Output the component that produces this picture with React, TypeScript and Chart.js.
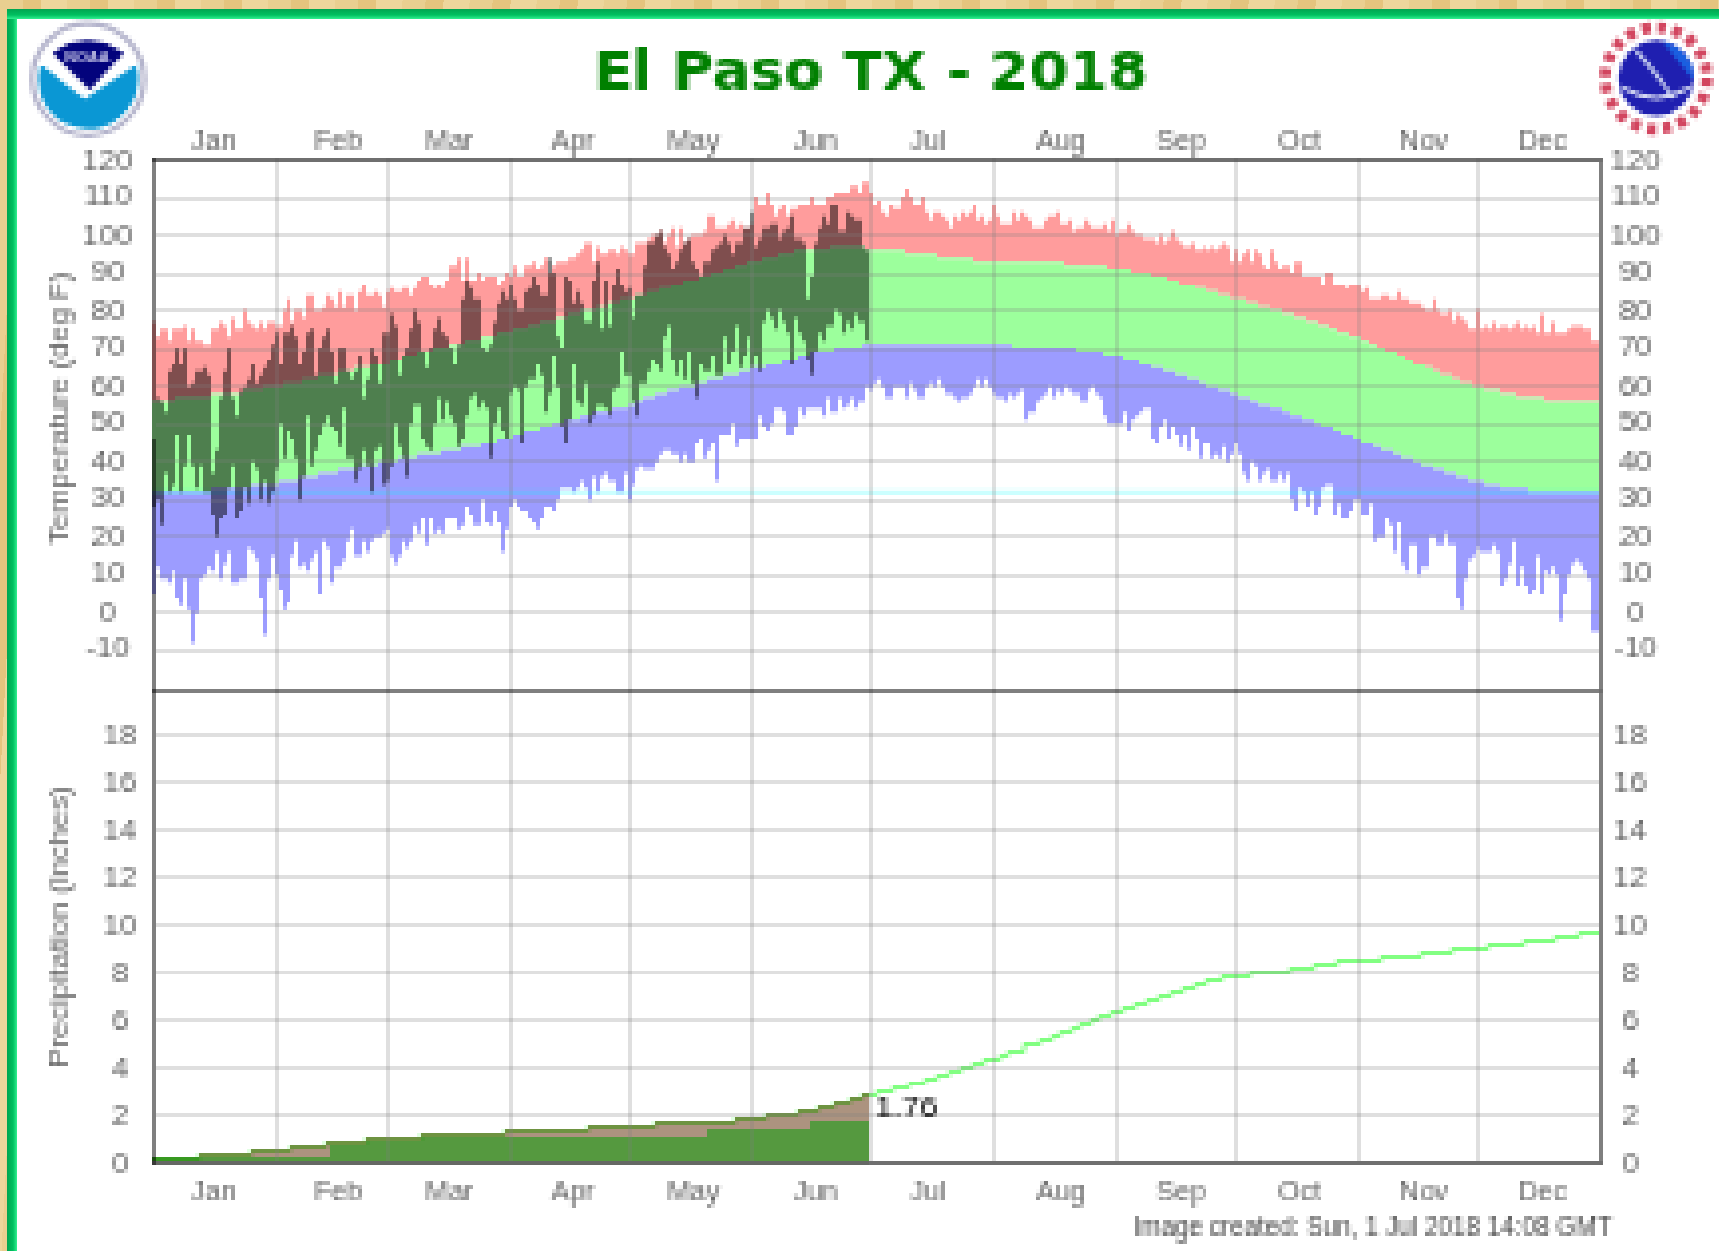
import React, { useEffect, useRef } from "react";
import { Chart, registerables } from "chart.js";

Chart.register(...registerables);

const TITLE = "El Paso TX - 2018";
const STAMP = "Image created: Sun, 1 Jul 2018 14:08 GMT";
const YTD_LABEL = "1.76";
const YTD_VALUE = 1.76;
const FREEZING_F = 32;

const monthLabels = ["Jan", "Feb", "Mar", "Apr", "May", "Jun", "Jul", "Aug", "Sep", "Oct", "Nov", "Dec"];
const monthLabelDays = [15.6, 47.1, 75.1, 106.2, 136.6, 167.3, 195.7, 229.2, 259.6, 289.5, 320.8, 350.7];
const monthGridDays = [31, 59, 90, 120, 151, 181, 212, 243, 273, 304, 334];
const tempTicks = [120, 110, 100, 90, 80, 70, 60, 50, 40, 30, 20, 10, 0, -10];

const recordHighF = [
  77,73,75,75,72,75,75,75,76,72,75,72,72,71,71,75,75,77,76,73,78,75,75,80,77,76,75,77,75,77,77,
  76,76,80,83,77,80,80,78,84,84,80,80,81,84,83,81,85,81,84,84,80,85,87,84,84,85,84,81,
  85,86,85,85,86,86,84,86,88,89,89,87,86,87,86,88,92,92,94,88,94,88,88,90,88,89,89,89,87,88,90,
  89,92,89,89,92,92,93,91,92,94,90,92,93,93,93,94,94,95,96,98,98,93,97,95,95,96,96,95,97,96,
  95,95,98,98,98,99,100,100,101,98,100,102,97,102,98,99,100,100,100,101,105,105,102,102,102,103,104,102,103,102,102,
  103,110,108,108,111,108,105,107,108,105,107,107,108,108,108,110,108,108,108,110,110,111,111,111,111,113,113,111,114,114,
  111,108,109,106,105,108,107,107,110,112,110,108,108,110,106,104,106,106,105,104,102,105,104,106,105,106,108,104,105,103,104,
  108,105,103,103,103,106,104,106,105,104,102,102,102,104,105,105,106,103,103,104,101,102,102,104,103,102,102,102,103,101,104,
  100,101,101,103,101,100,100,99,99,99,98,100,98,99,101,99,98,97,97,98,96,96,97,96,97,96,97,98,97,93,
  96,93,95,96,93,96,95,92,91,96,93,91,92,92,90,93,93,89,89,89,89,89,87,90,90,87,87,87,86,87,87,
  87,85,86,83,83,83,84,84,83,83,85,83,83,82,82,82,81,80,80,83,80,79,79,80,77,79,78,77,75,75,
  80,75,76,75,77,75,76,76,75,76,77,75,76,75,76,74,79,74,74,77,74,74,74,75,76,76,76,75,75,72,72,
];

const recordLowF = [
  5,12,9,9,8,11,4,2,9,1,-8,0,9,10,12,11,16,9,13,16,8,8,9,9,17,16,14,4,-6,9,15,
  10,6,1,3,15,19,12,13,11,14,16,5,19,17,8,12,12,14,19,22,15,15,19,16,19,20,20,21,
  22,15,13,15,19,17,19,23,21,25,18,25,21,22,21,25,25,25,22,23,28,26,23,23,30,24,23,27,24,16,22,
  28,30,28,27,27,25,24,22,25,28,28,27,30,33,33,33,32,33,35,33,30,36,32,36,37,35,35,32,32,37,
  30,34,38,39,38,38,38,40,42,43,43,42,42,40,42,40,40,45,46,41,43,45,35,47,47,47,50,44,46,46,46,
  46,46,52,49,48,50,54,54,53,47,47,49,54,52,54,54,54,54,52,57,53,53,57,54,55,57,54,56,56,60,
  59,61,62,60,57,57,60,60,60,57,61,59,57,57,60,61,60,62,60,58,58,57,56,57,57,58,60,62,60,62,60,
  58,57,57,56,58,57,58,59,51,53,53,56,57,58,60,57,59,58,60,59,58,58,56,56,59,60,58,57,52,50,50,
  50,50,53,48,51,52,53,54,54,46,45,49,51,46,49,47,44,47,43,49,46,41,45,45,41,42,41,44,40,42,
  45,42,37,35,40,39,35,37,38,35,35,37,35,37,30,27,33,32,28,32,26,28,33,34,34,26,29,25,25,27,30,
  30,26,26,29,19,20,20,25,23,16,24,13,11,18,18,10,12,12,20,20,18,18,21,18,18,4,1,9,14,15,
  17,16,16,16,18,16,7,9,13,19,7,12,7,5,6,15,5,11,10,12,10,-2,5,10,13,14,13,11,9,-5,-5,
];

const normalHighF = [
  56,56,56,56,56,56,57,57,57,57,57,57,57,57,57,58,58,58,58,58,58,58,58,59,59,59,59,59,60,60,60,
  60,60,61,61,61,61,61,62,62,62,62,63,63,63,63,63,64,64,64,64,65,65,65,65,66,66,66,66,
  66,67,67,67,68,68,68,68,69,69,69,69,70,70,70,70,71,71,71,71,72,72,72,72,73,73,73,73,74,74,74,
  74,75,75,75,75,76,76,76,77,77,77,77,78,78,78,79,79,79,80,80,80,80,81,81,81,82,82,82,83,83,
  83,83,84,84,84,85,85,85,86,86,86,87,87,87,88,88,88,88,89,89,89,90,90,90,91,91,91,92,92,92,93,
  93,93,93,94,94,94,94,95,95,95,95,96,96,96,96,96,96,96,96,96,97,97,97,97,97,97,97,97,97,96,
  96,96,96,96,96,96,96,96,96,95,95,95,95,95,95,95,95,94,94,94,94,94,94,94,94,94,93,93,93,93,93,
  93,93,93,93,93,93,93,93,93,93,93,93,93,93,93,93,93,93,92,92,92,92,92,92,92,92,92,92,92,91,91,
  91,91,91,91,90,90,90,90,90,89,89,89,89,88,88,88,87,87,87,87,86,86,86,85,85,85,84,84,84,83,
  83,83,83,82,82,82,81,81,81,80,80,80,79,79,79,78,78,78,77,77,77,76,76,76,75,75,74,74,74,73,73,
  73,72,72,71,71,70,70,69,69,69,68,68,67,67,66,66,66,65,65,64,64,63,63,63,62,62,61,61,61,60,
  60,60,59,59,59,59,58,58,58,58,57,57,57,57,57,57,57,56,56,56,56,56,56,56,56,56,56,56,56,56,56,
];

const normalLowF = [
  32,32,32,32,32,32,32,32,32,32,32,32,32,32,32,33,33,33,33,33,33,33,33,33,33,34,34,34,34,34,34,
  34,35,35,35,35,35,36,36,36,36,36,37,37,37,37,37,38,38,38,38,38,39,39,39,39,39,40,40,
  40,40,40,41,41,41,41,41,42,42,42,42,42,42,43,43,43,43,43,44,44,44,44,44,45,45,45,45,46,46,46,
  46,47,47,47,48,48,48,48,49,49,49,50,50,50,51,51,51,51,52,52,52,53,53,53,53,53,54,54,54,54,
  55,55,56,56,57,57,57,58,58,58,59,59,59,60,60,60,60,61,61,61,62,62,62,62,63,63,63,63,64,64,64,
  65,65,65,65,66,66,66,66,67,67,67,67,68,68,68,69,69,69,69,69,69,70,70,70,70,70,70,70,71,71,
  71,71,71,71,71,71,71,71,71,71,71,71,71,71,71,71,71,71,71,71,71,71,71,71,71,71,71,71,71,71,71,
  71,71,71,71,71,70,70,70,70,70,70,70,70,70,70,70,70,70,70,70,70,69,69,69,69,69,69,69,68,68,68,
  68,68,67,67,67,67,66,66,66,65,65,65,64,64,64,63,63,63,62,62,62,61,61,60,60,60,59,59,59,58,
  58,57,57,57,56,56,55,55,55,54,54,54,53,53,52,52,52,51,51,51,50,50,49,49,49,48,48,47,47,47,46,
  46,45,45,45,44,44,43,43,43,42,42,41,41,41,40,40,39,39,39,38,38,38,37,37,37,36,36,36,35,35,
  35,35,34,34,34,34,33,33,33,33,33,33,33,32,32,32,32,32,32,32,32,32,32,32,32,32,32,32,32,32,32,
];

const observedHighF = [
  46,57,56,53,64,66,70,66,70,60,61,64,64,65,63,37,43,57,64,70,57,52,59,60,62,66,61,63,65,67,71,
  74,66,74,74,76,73,66,69,74,75,63,70,73,75,69,61,70,70,64,62,64,68,57,62,70,68,61,74,
  74,79,76,63,68,70,75,80,77,69,65,70,75,78,74,73,70,66,71,83,88,86,83,83,70,69,71,77,82,85,83,
  87,83,80,80,85,86,89,87,84,84,94,90,73,70,89,88,82,85,82,77,77,88,93,75,88,76,87,91,87,85,
  86,78,84,84,92,98,98,100,101,97,95,91,93,96,98,99,93,91,89,93,93,96,97,98,100,98,95,98,98,102,102,
  106,97,99,102,102,103,103,99,101,102,105,99,99,98,83,89,98,102,105,103,108,108,101,101,106,105,104,104,97,96,
];

const observedLowF = [
  28,30,23,37,32,34,47,32,39,47,39,33,39,32,32,26,20,25,26,33,39,25,27,33,29,40,38,30,35,29,32,
  38,50,41,48,46,41,30,36,52,39,43,47,50,52,49,48,44,54,41,41,35,38,43,39,32,43,44,34,
  35,39,50,44,41,36,50,55,55,46,44,43,50,57,51,56,52,50,44,46,52,57,58,54,56,54,41,50,54,48,46,
  58,60,59,45,60,62,62,66,63,53,58,68,60,49,45,51,66,56,55,61,50,52,55,55,54,52,59,60,69,63,
  63,56,52,61,61,64,67,66,64,73,76,67,63,67,62,69,61,57,66,64,64,68,63,63,73,66,69,76,65,68,73,
  65,68,64,77,80,78,75,80,77,74,66,78,74,72,67,63,69,74,72,76,76,80,79,74,77,75,79,77,77,72,
];

const normalPrecipIn = [
  0.17,0.17,0.17,0.17,0.17,0.17,0.17,0.17,0.17,0.17,0.17,0.17,0.31,0.31,0.31,0.31,0.31,0.31,0.31,0.31,0.31,0.31,0.31,0.31,0.31,0.46,0.46,0.46,0.46,0.46,0.46,
  0.46,0.46,0.46,0.46,0.63,0.63,0.63,0.63,0.63,0.63,0.63,0.63,0.63,0.78,0.78,0.78,0.78,0.78,0.78,0.78,0.78,0.78,0.78,0.95,0.95,0.95,0.95,0.95,
  0.95,0.95,0.95,0.95,0.95,0.95,0.95,0.95,0.95,1.1,1.1,1.1,1.1,1.1,1.1,1.1,1.1,1.1,1.1,1.1,1.1,1.1,1.1,1.1,1.1,1.1,1.1,1.1,1.1,1.1,1.26,
  1.26,1.26,1.26,1.26,1.26,1.26,1.26,1.26,1.26,1.26,1.26,1.26,1.26,1.26,1.26,1.26,1.26,1.26,1.26,1.26,1.42,1.42,1.42,1.42,1.42,1.42,1.42,1.42,1.42,1.42,
  1.42,1.42,1.42,1.42,1.42,1.42,1.42,1.59,1.59,1.59,1.59,1.59,1.59,1.59,1.59,1.59,1.59,1.73,1.73,1.73,1.73,1.73,1.73,1.73,1.73,1.73,1.73,1.88,1.88,1.88,1.88,
  1.88,1.88,1.88,1.88,2.05,2.05,2.05,2.05,2.05,2.05,2.05,2.05,2.22,2.22,2.22,2.22,2.22,2.37,2.37,2.37,2.37,2.52,2.52,2.52,2.52,2.67,2.67,2.67,2.84,2.84,
  2.84,2.84,2.99,2.99,2.99,2.99,3.15,3.15,3.15,3.15,3.3,3.3,3.3,3.3,3.45,3.45,3.45,3.6,3.6,3.6,3.78,3.78,3.78,3.93,3.93,3.93,4.1,4.1,4.1,4.26,4.26,
  4.26,4.26,4.45,4.45,4.6,4.6,4.75,4.75,4.92,4.92,5.08,5.08,5.23,5.23,5.23,5.4,5.4,5.55,5.55,5.55,5.7,5.7,5.86,5.86,5.86,6.02,6.02,6.17,6.17,6.17,6.33,
  6.33,6.33,6.49,6.49,6.55,6.65,6.65,6.7,6.8,6.8,6.9,6.95,6.95,7.05,7.1,7.15,7.2,7.3,7.35,7.4,7.45,7.5,7.55,7.6,7.65,7.7,7.72,7.78,7.82,7.88,
  7.9,7.9,7.9,7.9,8.06,8.06,8.06,8.06,8.06,8.06,8.06,8.06,8.06,8.06,8.22,8.22,8.22,8.22,8.22,8.22,8.38,8.38,8.38,8.38,8.38,8.38,8.54,8.54,8.54,8.54,8.54,
  8.54,8.54,8.54,8.54,8.54,8.54,8.7,8.7,8.7,8.7,8.7,8.7,8.7,8.7,8.7,8.7,8.86,8.86,8.86,8.86,8.86,8.86,8.86,8.86,9.02,9.02,9.02,9.02,9.02,9.02,
  9.02,9.02,9.02,9.18,9.18,9.18,9.18,9.18,9.18,9.18,9.18,9.18,9.34,9.34,9.34,9.34,9.34,9.34,9.34,9.34,9.5,9.5,9.5,9.5,9.5,9.5,9.66,9.66,9.66,9.66,9.66,
];

const observedPrecipIn = [
  0.2,0.2,0.2,0.2,0.2,0.2,0.2,0.2,0.2,0.2,0.2,0.2,0.2,0.2,0.2,0.2,0.2,0.2,0.2,0.2,0.2,0.2,0.2,0.2,0.2,0.2,0.2,0.2,0.2,0.2,0.2,
  0.2,0.2,0.2,0.2,0.2,0.2,0.2,0.2,0.2,0.2,0.2,0.2,0.2,0.2,0.7,0.7,0.7,0.7,0.7,0.7,0.7,0.7,0.7,0.86,0.86,0.86,0.86,0.86,
  0.86,0.86,0.86,0.86,0.86,0.86,0.86,0.86,0.86,1.02,1.02,1.02,1.02,1.02,1.02,1.02,1.02,1.02,1.02,1.02,1.02,1.02,1.02,1.02,1.02,1.02,1.02,1.02,1.02,1.02,1.02,
  1.02,1.02,1.02,1.02,1.02,1.02,1.02,1.02,1.02,1.02,1.02,1.02,1.02,1.02,1.02,1.02,1.02,1.02,1.02,1.02,1.02,1.02,1.02,1.02,1.02,1.02,1.02,1.02,1.02,1.02,
  1.02,1.02,1.02,1.02,1.02,1.02,1.02,1.02,1.02,1.02,1.02,1.02,1.02,1.02,1.02,1.02,1.02,1.02,1.02,1.02,1.49,1.49,1.49,1.49,1.49,1.49,1.49,1.49,1.49,1.49,1.49,
  1.49,1.49,1.49,1.49,1.49,1.49,1.49,1.49,1.49,1.49,1.49,1.49,1.49,1.49,1.49,1.76,1.76,1.76,1.76,1.76,1.76,1.76,1.76,1.76,1.76,1.76,1.76,1.76,1.76,1.76,
];

// The reference is a small bitmap enlarged about 3.965 times: draw at that coarse resolution.
const SOURCE_SCALE = 0.2522;
const PX = 1 / SOURCE_SCALE;
const TEMP_AXIS_MIN = -20.7;
const PRECIP_AXIS_MAX = 19.84;
const PRECIP_PANEL_HEIGHT = 471.9;
// Inches covered by one row of the coarse bitmap.
const PRECIP_ROW = (PX * PRECIP_AXIS_MAX) / PRECIP_PANEL_HEIGHT;

const GRID = "rgba(128,128,128,0.25)";
const AXIS = "rgba(0,0,0,0.5)";
const LABEL = "#666666";
const FONT = "'Liberation Sans'";

const dayPoints = (values: number[]) => {
  const pts = values.map((y, x) => ({ x, y }));
  pts.push({ x: values.length, y: values[values.length - 1] });
  return pts;
};

const rowCentre = (v: number) => Math.round(v / PRECIP_ROW) * PRECIP_ROW;
const rowEdge = (v: number) => (Math.round(v / PRECIP_ROW - 0.5) + 0.5) * PRECIP_ROW;

const band = (label: string, values: number[], target: any, color: string, order: number) => ({
  label,
  data: dayPoints(values),
  yAxisID: "yT",
  stepped: true,
  borderWidth: 0,
  pointRadius: 0,
  fill: target === false ? false : { target },
  backgroundColor: color,
  order,
});

const drawLogos = (ctx: CanvasRenderingContext2D) => {
  // NOAA
  ctx.save();
  ctx.translate(87, 76);
  ctx.beginPath();
  ctx.arc(0, 0, 56, 0, Math.PI * 2);
  ctx.strokeStyle = "#b4b4cc";
  ctx.lineWidth = 5;
  ctx.stroke();
  ctx.beginPath();
  ctx.moveTo(-48, -15);
  ctx.lineTo(-3, 20);
  ctx.lineTo(49, -15);
  ctx.arc(0, 0, 50, -0.3, Math.PI + 0.3, false);
  ctx.closePath();
  ctx.fillStyle = "#0a97d4";
  ctx.fill();
  ctx.beginPath();
  ctx.moveTo(-36, -26);
  ctx.quadraticCurveTo(0, -52, 36, -26);
  ctx.lineTo(2, 11);
  ctx.closePath();
  ctx.fillStyle = "#03037c";
  ctx.fill();
  ctx.fillStyle = "#c8c8e8";
  ctx.font = "bold 15px 'Liberation Sans'";
  ctx.textAlign = "center";
  ctx.textBaseline = "middle";
  ctx.fillText("NOAA", 0, -20);
  ctx.restore();

  // NWS
  ctx.save();
  ctx.translate(1655, 75);
  ctx.beginPath();
  ctx.arc(0, 0, 51, 0, Math.PI * 2);
  ctx.strokeStyle = "#d2455f";
  ctx.lineWidth = 11;
  ctx.setLineDash([9, 7]);
  ctx.stroke();
  ctx.setLineDash([]);
  ctx.beginPath();
  ctx.arc(0, 0, 38, 0, Math.PI * 2);
  ctx.fillStyle = "#1f1fb0";
  ctx.fill();
  ctx.beginPath();
  ctx.arc(0, 0, 38, -1.4, 0.1);
  ctx.closePath();
  ctx.fillStyle = "#1a5fe0";
  ctx.fill();
  ctx.beginPath();
  ctx.moveTo(-20, -28);
  ctx.lineTo(18, 20);
  ctx.strokeStyle = "#c8d0f0";
  ctx.lineWidth = 4;
  ctx.stroke();
  ctx.beginPath();
  ctx.moveTo(-34, 10);
  ctx.quadraticCurveTo(0, 30, 34, 10);
  ctx.strokeStyle = "#d8dcf4";
  ctx.lineWidth = 4;
  ctx.stroke();
  ctx.restore();
};

const annotations = {
  id: "annotations",
  afterDraw(chart: any) {
    const { ctx, scales } = chart;
    ctx.save();
    drawLogos(ctx);
    ctx.fillStyle = "#000000";
    ctx.font = `32px ${FONT}`;
    ctx.textAlign = "left";
    ctx.textBaseline = "middle";
    ctx.fillText(YTD_LABEL, scales.x.getPixelForValue(181) + 6, scales.yP.getPixelForValue(YTD_VALUE) - 11);
    ctx.fillStyle = "#484848";
    ctx.font = `25px ${FONT}`;
    ctx.textAlign = "right";
    ctx.fillText(STAMP, 1611, 1225);
    ctx.restore();
  },
};

const gridDayTicks = monthGridDays.map((d) => d + 0.5);

const monthTicks = (withGrid: boolean) => (axis: any) => {
  const days = withGrid ? [...monthLabelDays, ...gridDayTicks] : monthLabelDays;
  axis.ticks = [...days].sort((a, b) => a - b).map((value) => ({ value }));
};
const monthTickLabel = (value: number) => {
  const i = monthLabelDays.indexOf(value);
  return i >= 0 ? monthLabels[i] : "";
};

const xBase = (padding: number, height: number, withGrid: boolean) => ({
  type: "linear",
  min: 0,
  max: 365,
  afterBuildTicks: monthTicks(withGrid),
  afterFit: (axis: any) => {
    axis.height = height;
  },
  border: { color: AXIS, width: PX, z: 2 },
  ticks: {
    autoSkip: false,
    maxRotation: 0,
    minRotation: 0,
    includeBounds: false,
    padding,
    color: LABEL,
    font: { family: FONT, size: 28 },
    callback: monthTickLabel,
  },
});

const yBase = (
  min: number,
  max: number,
  step: number,
  weight: number,
  stackWeight: number,
  side: string,
  width: number,
  padding: number,
) => ({
  type: "linear",
  position: side,
  stack: "panels",
  stackWeight,
  weight,
  min,
  max,
  afterFit: (axis: any) => {
    axis.width = width;
  },
  border: { color: AXIS, width: PX, z: 2 },
  ticks: {
    stepSize: step,
    includeBounds: false,
    autoSkip: false,
    padding,
    crossAlign: "center",
    color: LABEL,
    font: { family: FONT, size: 30 },
    callback: (v: number) => (v < -10 ? "" : String(v)),
  },
});

const tempAxisTicks = (withDivider: boolean) => (axis: any) => {
  const values = withDivider ? [...tempTicks, TEMP_AXIS_MIN] : tempTicks;
  axis.ticks = values.map((value) => ({ value }));
};

export default function App() {
  const ref = useRef<HTMLCanvasElement | null>(null);

  useEffect(() => {
    const canvas = ref.current!;
    const chart = new Chart(canvas, {
      type: "line",
      plugins: [annotations],
      data: {
        datasets: [
          band("Record high", recordHighF, 1, "#ff9c9c", 10),
          band("Normal high", normalHighF, 2, "#9cff9c", 9),
          band("Normal low", normalLowF, 3, "#9c9cff", 8),
          band("Record low", recordLowF, false, "transparent", 7),
          {
            label: "Freezing",
            data: [
              { x: 0, y: FREEZING_F },
              { x: 365, y: FREEZING_F },
            ],
            yAxisID: "yT",
            borderColor: "rgba(0,255,255,0.25)",
            borderWidth: PX,
            pointRadius: 0,
            fill: false,
            order: 6,
          },
          band("Observed high", observedHighF, 6, "rgba(0,0,0,0.5)", 5),
          band("Observed low", observedLowF, false, "transparent", 4),
          {
            label: "Normal precipitation",
            data: dayPoints(normalPrecipIn.map(rowCentre)),
            yAxisID: "yP",
            stepped: true,
            borderColor: "#80ff80",
            borderWidth: PX,
            pointRadius: 0,
            fill: false,
            order: 3,
          },
          {
            label: "Normal precipitation to date",
            data: dayPoints(normalPrecipIn.slice(0, 181).map((v) => rowCentre(v) + PRECIP_ROW / 2)),
            yAxisID: "yP",
            stepped: true,
            borderWidth: 0,
            pointRadius: 0,
            fill: { value: 0 },
            backgroundColor: "rgba(90,40,0,0.5)",
            order: 2,
          },
          {
            label: "Observed precipitation",
            data: dayPoints(observedPrecipIn.map(rowEdge)),
            yAxisID: "yP",
            stepped: true,
            borderWidth: 0,
            pointRadius: 0,
            fill: { value: 0 },
            backgroundColor: "rgba(0,160,0,0.5)",
            order: 1,
          },
        ],
      },
      options: {
        responsive: false,
        animation: false,
        devicePixelRatio: SOURCE_SCALE,
        layout: { padding: { left: 19, right: 0, top: 0, bottom: 0 } },
        plugins: {
          legend: { display: false },
          tooltip: { enabled: false },
          title: {
            display: true,
            text: TITLE,
            color: "#008000",
            font: { family: "'DejaVu Sans'", size: 57, weight: "bold" },
            padding: { top: 37.7, bottom: 14.5 },
          },
        },
        scales: {
          x: {
            ...xBase(11.5, 93.2, true),
            position: "bottom",
            grid: {
              z: 1,
              lineWidth: PX,
              drawTicks: false,
              color: (ctx: any) => (gridDayTicks.includes(ctx.tick?.value) ? GRID : "transparent"),
            },
          },
          xTop: {
            ...xBase(2, 36, false),
            position: "top",
            grid: { display: false, drawTicks: false },
          },
          yT: {
            ...yBase(TEMP_AXIS_MIN, 120, 10, 1, 531.3, "left", 131.75, 19),
            afterBuildTicks: tempAxisTicks(true),
            title: {
              display: true,
              text: "    Temperature (deg F)",
              color: LABEL,
              font: { family: FONT, size: 30 },
              padding: { top: 23, bottom: 0 },
            },
            grid: {
              z: 1,
              lineWidth: PX,
              drawTicks: false,
              color: (ctx: any) => (ctx.tick?.value === TEMP_AXIS_MIN ? AXIS : GRID),
            },
          },
          yP: {
            ...yBase(0, PRECIP_AXIS_MAX, 2, 0, PRECIP_PANEL_HEIGHT, "left", 131.75, 15),
            title: {
              display: true,
              text: "Precipitation (Inches)",
              color: LABEL,
              font: { family: FONT, size: 30 },
              padding: { top: 23, bottom: 0 },
            },
            grid: { z: 1, lineWidth: PX, drawTicks: false, color: GRID },
          },
          yTR: {
            ...yBase(TEMP_AXIS_MIN, 120, 10, 0, 531.3, "right", 122.98, 11),
            afterBuildTicks: tempAxisTicks(false),
            grid: { display: false, drawTicks: false },
          },
          yPR: {
            ...yBase(0, PRECIP_AXIS_MAX, 2, 1, PRECIP_PANEL_HEIGHT, "right", 122.98, 14),
            grid: { display: false, drawTicks: false },
          },
        },
      } as any,
    } as any);
    return () => chart.destroy();
  }, []);

  return (
    <div
      style={{
        position: "fixed",
        left: 0,
        top: 0,
        width: 1719,
        height: 1251,
        overflow: "hidden",
        background:
          "repeating-linear-gradient(93deg, #e9cf90 0 23px, #e4c47e 23px 41px, #edd69c 41px 67px)",
      }}
    >
      <div
        style={{
          position: "absolute",
          left: 7,
          top: 9,
          right: 0,
          bottom: 0,
          background: "linear-gradient(90deg, #00a550, #00c060 6px, #30f090 10px)",
        }}
      />
      <div
        style={{
          position: "absolute",
          left: 7,
          top: 9,
          right: 0,
          height: 10,
          background: "linear-gradient(180deg, #00a550, #00c060 6px, #30f090 10px)",
        }}
      />
      <div style={{ position: "absolute", left: 17, top: 19, right: 0, bottom: 0, background: "#ffffff" }} />
      <canvas
        ref={ref}
        width={1721}
        height={1253}
        style={{ position: "absolute", left: 1, top: 3, imageRendering: "pixelated" }}
      />
    </div>
  );
}
